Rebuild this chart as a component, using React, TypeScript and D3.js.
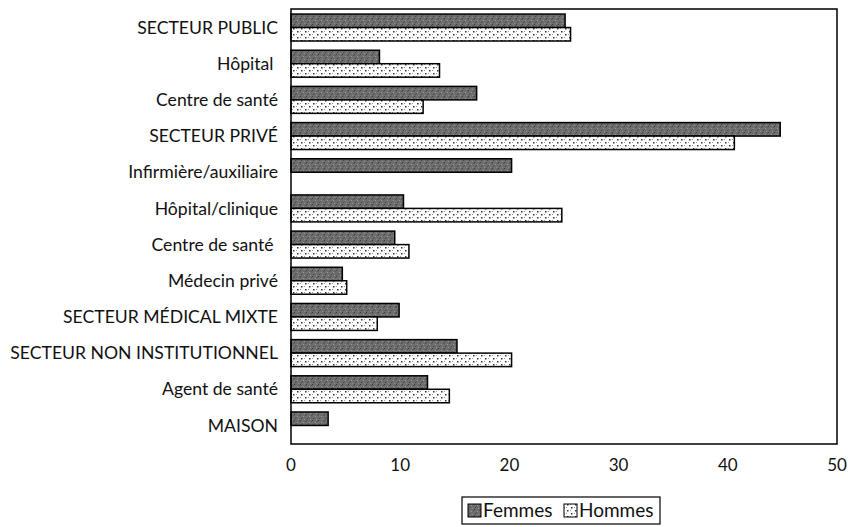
import React, { useRef, useEffect } from 'react';
import * as d3 from 'd3';

const categories = [
  'SECTEUR PUBLIC',
  'Hôpital ',
  'Centre de santé',
  'SECTEUR PRIVÉ',
  'Infirmière/auxiliaire',
  'Hôpital/clinique',
  'Centre de santé ',
  'Médecin privé',
  'SECTEUR MÉDICAL MIXTE',
  'SECTEUR NON INSTITUTIONNEL',
  'Agent de santé',
  'MAISON',
];
const femmes = [25.1, 8.1, 17.0, 44.8, 20.2, 10.3, 9.5, 4.7, 9.9, 15.2, 12.5, 3.4];
const hommes = [25.6, 13.6, 12.1, 40.6, 0, 24.8, 10.8, 5.1, 7.9, 20.2, 14.5, 0];
const series = ['Femmes', 'Hommes'];
const xTicks = [0, 10, 20, 30, 40, 50];

const W = 848, H = 527;
const margin = { left: 291, right: 11, top: 9, bottom: 83 };
const FONT = 'Lato, "Open Sans", sans-serif';

const App = () => {
  const ref = useRef<SVGSVGElement>(null);

  useEffect(() => {
    const svg = d3.select(ref.current);
    svg.selectAll('*').remove();

    // textures
    const defs = svg.append('defs');
    const pf = defs.append('pattern').attr('id', 'pf').attr('patternUnits', 'userSpaceOnUse')
      .attr('width', 6).attr('height', 6);
    pf.append('rect').attr('width', 6).attr('height', 6).attr('fill', '#6e6e6e');
    [[0, 0, '#3a3a3a'], [3, 2, '#9a9a9a'], [1, 4, '#454545'], [4, 5, '#8c8c8c'], [5, 1, '#505050'], [2, 3, '#5a5a5a']]
      .forEach(([x, y, c]) => pf.append('rect').attr('x', x).attr('y', y).attr('width', 1).attr('height', 1).attr('fill', c as string));
    const ph = defs.append('pattern').attr('id', 'ph').attr('patternUnits', 'userSpaceOnUse')
      .attr('width', 8).attr('height', 6);
    ph.append('rect').attr('width', 8).attr('height', 6).attr('fill', '#fff');
    [[1, 1], [5, 4]].forEach(([x, y]) =>
      ph.append('rect').attr('x', x).attr('y', y).attr('width', 1.5).attr('height', 1.5).attr('fill', '#333'));
    [[4, 1], [0, 4]].forEach(([x, y]) =>
      ph.append('rect').attr('x', x).attr('y', y).attr('width', 1).attr('height', 1).attr('fill', '#999'));

    const x = d3.scaleLinear().domain([0, 50]).range([margin.left, W - margin.right]);
    const y = d3.scaleBand<number>().domain(d3.range(categories.length))
      .range([margin.top, H - margin.bottom]).paddingInner(0.255).paddingOuter(0.14);
    const sub = d3.scaleBand<string>().domain(series).range([0, y.bandwidth()]);

    const fills = ['url(#pf)', 'url(#ph)'];
    [femmes, hommes].forEach((vals, si) => {
      svg.append('g').selectAll('rect').data(vals).join('rect')
        .attr('x', x(0))
        .attr('y', (_, i) => y(i)! + sub(series[si])!)
        .attr('width', d => x(d) - x(0))
        .attr('height', sub.bandwidth())
        .attr('fill', fills[si])
        .attr('stroke', '#000')
        .attr('stroke-width', d => (d > 0 ? 1.5 : 0));
    });

    // frame
    svg.append('rect')
      .attr('x', x(0)).attr('y', margin.top)
      .attr('width', x(50) - x(0)).attr('height', H - margin.bottom - margin.top)
      .attr('fill', 'none').attr('stroke', '#000').attr('stroke-width', 1.5);

    // category labels
    svg.append('g').selectAll('text').data(categories).join('text')
      .attr('x', x(0) - 13)
      .attr('y', (_, i) => y(i)! + y.bandwidth() / 2)
      .attr('dy', '0.35em')
      .attr('text-anchor', 'end')
      .style('white-space', 'pre')
      .attr('font-family', FONT).attr('font-size', 17.6).attr('fill', '#111')
      .text(d => d);

    // x tick labels
    svg.append('g').selectAll('text').data(xTicks).join('text')
      .attr('x', d => x(d))
      .attr('y', H - margin.bottom + 27)
      .attr('text-anchor', 'middle')
      .attr('font-family', FONT).attr('font-size', 17).attr('fill', '#111')
      .text(d => d);

    // legend
    const lg = svg.append('g').attr('transform', 'translate(462,497)');
    lg.append('rect').attr('width', 198).attr('height', 27)
      .attr('fill', '#fff').attr('stroke', '#000').attr('stroke-width', 1.2);
    const itemX = [6, 102];
    series.forEach((s, i) => {
      lg.append('rect').attr('x', itemX[i]).attr('y', 7).attr('width', 13).attr('height', 13)
        .attr('fill', fills[i]).attr('stroke', '#000').attr('stroke-width', 1);
      lg.append('text').attr('x', itemX[i] + 15).attr('y', 20)
        .attr('font-family', FONT).attr('font-size', 19).attr('fill', '#111').text(s);
    });
  }, []);

  return <svg ref={ref} width={W} height={H} style={{ position: 'absolute', left: 0, top: 0 }} />;
};

export default App;
